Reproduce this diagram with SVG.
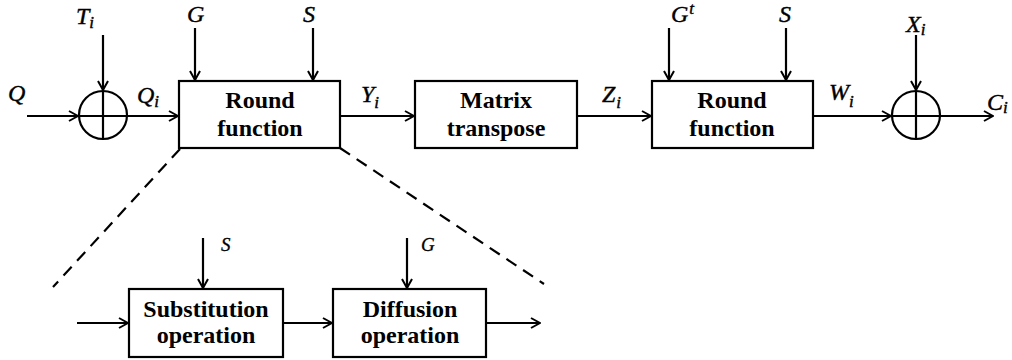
<svg xmlns="http://www.w3.org/2000/svg" width="1012" height="360" viewBox="0 0 1012 360">
<style>
.box{fill:#fff;stroke:#000;stroke-width:2.2}
.ln{fill:none;stroke:#000;stroke-width:2.2}
.dash{fill:none;stroke:#000;stroke-width:2.2;stroke-dasharray:12 8}
.bt{font-family:'Liberation Serif','Times New Roman','DejaVu Serif',serif;font-weight:bold;font-size:24px;text-anchor:middle;fill:#000}
.mt{font-family:'Liberation Serif','Times New Roman','DejaVu Serif',serif;font-style:italic;font-size:24px;fill:#000;stroke:#000;stroke-width:0.4}
.sub{font-size:17px}
.st{font-family:'Liberation Serif','Times New Roman','DejaVu Serif',serif;font-style:italic;font-size:19px;fill:#000;stroke:#000;stroke-width:0.3}
</style>
<defs>
<marker id="ar" viewBox="0 0 12 12" refX="11" refY="6" markerWidth="12" markerHeight="12" markerUnits="userSpaceOnUse" orient="auto">
<path d="M2,1 L11,6 L2,11" fill="none" stroke="#000" stroke-width="2"/>
</marker>
</defs>
<g id="connectors">
<line class="ln" x1="27" y1="116" x2="78" y2="116" marker-end="url(#ar)"/>
<line class="ln" x1="103" y1="35" x2="103" y2="90" marker-end="url(#ar)"/>
<line class="ln" x1="127" y1="116" x2="178" y2="116" marker-end="url(#ar)"/>
<line class="ln" x1="195" y1="28" x2="195" y2="80" marker-end="url(#ar)"/>
<line class="ln" x1="313" y1="28" x2="313" y2="80" marker-end="url(#ar)"/>
<line class="ln" x1="340" y1="116" x2="414" y2="116" marker-end="url(#ar)"/>
<line class="ln" x1="577" y1="116" x2="651" y2="116" marker-end="url(#ar)"/>
<line class="ln" x1="669" y1="28" x2="669" y2="80" marker-end="url(#ar)"/>
<line class="ln" x1="786" y1="28" x2="786" y2="80" marker-end="url(#ar)"/>
<line class="ln" x1="813" y1="116" x2="891" y2="116" marker-end="url(#ar)"/>
<line class="ln" x1="916" y1="35" x2="916" y2="90" marker-end="url(#ar)"/>
<line class="ln" x1="940" y1="116" x2="993" y2="116" marker-end="url(#ar)"/>
<line class="dash" x1="180" y1="149" x2="53" y2="287"/>
<line class="dash" x1="340" y1="148" x2="544" y2="284"/>
<line class="ln" x1="77" y1="323" x2="128" y2="323" marker-end="url(#ar)"/>
<line class="ln" x1="203" y1="238" x2="203" y2="288" marker-end="url(#ar)"/>
<line class="ln" x1="283" y1="323" x2="332" y2="323" marker-end="url(#ar)"/>
<line class="ln" x1="407" y1="238" x2="407" y2="288" marker-end="url(#ar)"/>
<line class="ln" x1="486" y1="323" x2="540" y2="323" marker-end="url(#ar)"/>
</g>
<g id="xor1">
<circle class="ln" cx="103" cy="115" r="24"/>
<line class="ln" x1="79" y1="116" x2="127" y2="116"/>
<line class="ln" x1="103" y1="91" x2="103" y2="139"/>
</g>
<g id="xor2">
<circle class="ln" cx="916" cy="115" r="24"/>
<line class="ln" x1="892" y1="116" x2="940" y2="116"/>
<line class="ln" x1="916" y1="91" x2="916" y2="139"/>
</g>
<g id="round1">
<rect class="box" x="179" y="81" width="161" height="67"/>
<text class="bt" x="260" y="108">Round</text>
<text class="bt" x="260" y="136">function</text>
</g>
<g id="transpose">
<rect class="box" x="415" y="81" width="162" height="67"/>
<text class="bt" x="496" y="108">Matrix</text>
<text class="bt" x="496" y="136">transpose</text>
</g>
<g id="round2">
<rect class="box" x="652" y="81" width="161" height="67"/>
<text class="bt" x="732" y="108">Round</text>
<text class="bt" x="732" y="136">function</text>
</g>
<g id="substitution">
<rect class="box" x="129" y="289" width="154" height="68"/>
<text class="bt" x="206" y="317">Substitution</text>
<text class="bt" x="206" y="343">operation</text>
</g>
<g id="diffusion">
<rect class="box" x="333" y="289" width="153" height="68"/>
<text class="bt" x="410" y="317">Diffusion</text>
<text class="bt" x="410" y="343">operation</text>
</g>
<g id="labels">
<text class="mt" x="8" y="101">Q</text>
<text class="mt" x="76" y="24">T<tspan class="sub" dx="0" dy="4">i</tspan></text>
<text class="mt" x="187" y="22">G</text>
<text class="mt" x="303" y="22">S</text>
<text class="mt" x="137" y="103">Q<tspan class="sub" dx="0" dy="4">i</tspan></text>
<text class="mt" x="361" y="102">Y<tspan class="sub" dx="0" dy="6">i</tspan></text>
<text class="mt" x="602" y="102">Z<tspan class="sub" dx="1" dy="6">i</tspan></text>
<text class="mt" x="671" y="22">G<tspan class="sub" dx="1" dy="-8">t</tspan></text>
<text class="mt" x="779" y="22">S</text>
<text class="mt" x="829" y="100">W<tspan class="sub" dx="0" dy="7">i</tspan></text>
<text class="mt" x="906" y="32">X<tspan class="sub" dx="0" dy="3">i</tspan></text>
<text class="mt" x="987" y="110">C<tspan class="sub" dx="0" dy="3">i</tspan></text>
<text class="st" x="221" y="251">S</text>
<text class="st" x="421" y="251">G</text>
</g>
</svg>
